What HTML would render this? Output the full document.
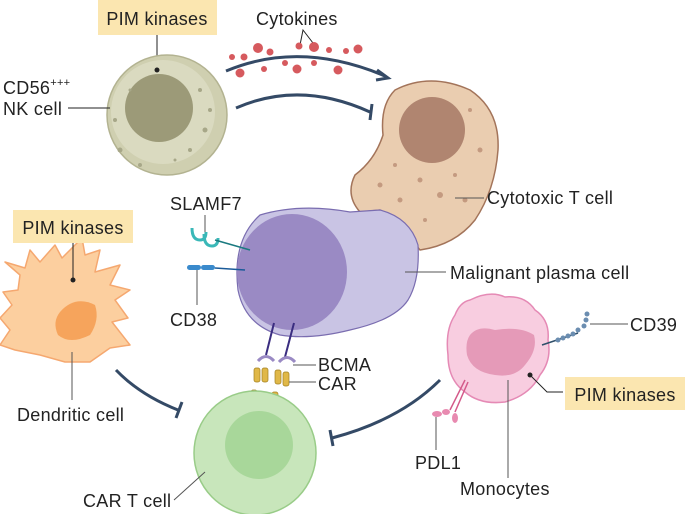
<!DOCTYPE html>
<html><head><style>
body{margin:0;background:#fff}
svg{display:block}
text{font-family:"Liberation Sans",sans-serif;font-size:18px;fill:#222;letter-spacing:0.3px}
</style></head><body>
<svg width="685" height="514" viewBox="0 0 685 514" xmlns="http://www.w3.org/2000/svg">
<rect x="98" y="0" width="119" height="35" fill="#fbe6b0"/>
<text x="157" y="25" text-anchor="middle">PIM kinases</text>
<line x1="157" y1="35" x2="157" y2="70" stroke="#222" stroke-width="1"/>
<ellipse cx="167" cy="115" rx="60" ry="60" fill="#cfcfb0" stroke="#b3b391" stroke-width="1.5"/>
<ellipse cx="163" cy="112" rx="52" ry="52" fill="#dadac0"/>
<circle cx="159" cy="108" r="34" fill="#9c9a78"/>
<circle cx="157" cy="70" r="2.5" fill="#222"/>
<g fill="#a7a788">
<circle cx="130" cy="90" r="1.5"/><circle cx="200" cy="90" r="2"/><circle cx="205" cy="130" r="2.5"/><circle cx="120" cy="150" r="2.5"/><circle cx="190" cy="150" r="2"/><circle cx="140" cy="165" r="2"/><circle cx="210" cy="110" r="2"/><circle cx="115" cy="120" r="2"/><circle cx="175" cy="160" r="1.5"/>
</g>
<text x="3" y="94">CD56<tspan font-size="11" dy="-8">+++</tspan></text>
<text x="3" y="115">NK cell</text>
<line x1="68" y1="108" x2="110" y2="108" stroke="#222"/>
<text x="256" y="25">Cytokines</text>
<polyline points="300,45 303,30 313,43" fill="none" stroke="#222"/>
<path d="M226,71 Q300,40 385,76" fill="none" stroke="#344a66" stroke-width="3"/>
<path d="M377,70 L388,78 L376,80" fill="none" stroke="#344a66" stroke-width="3"/>
<g fill="#d65a5e">
<circle cx="232" cy="57" r="3"/><circle cx="244" cy="57" r="3.5"/><circle cx="258" cy="48" r="5"/><circle cx="270" cy="52" r="3.5"/><circle cx="299" cy="46" r="3.5"/><circle cx="314" cy="47" r="5"/><circle cx="329" cy="50" r="3"/><circle cx="346" cy="51" r="3"/><circle cx="358" cy="49" r="4.5"/>
<circle cx="240" cy="73" r="4.5"/><circle cx="264" cy="69" r="3"/><circle cx="285" cy="63" r="3"/><circle cx="297" cy="69" r="4.5"/><circle cx="314" cy="63" r="3"/><circle cx="338" cy="70" r="4.5"/>
</g>
<path d="M236,108 Q300,80 370,112" fill="none" stroke="#344a66" stroke-width="3"/>
<line x1="372" y1="104" x2="370" y2="120" stroke="#344a66" stroke-width="3"/>
<path d="M395,90 Q430,72 470,90 Q500,110 498,150 Q495,190 475,220 Q455,245 420,250 L410,238 L400,222 L380,210 L360,212 Q345,195 355,175 Q375,160 383,135 Q380,105 395,90Z" fill="#eacdb0" stroke="#a3745a" stroke-width="1.5"/>
<circle cx="432" cy="130" r="33" fill="#b08570"/>
<g fill="#c49a80">
<circle cx="470" cy="110" r="2"/><circle cx="480" cy="150" r="2.5"/><circle cx="420" cy="180" r="2.5"/><circle cx="440" cy="195" r="3"/><circle cx="380" cy="185" r="2.5"/><circle cx="455" cy="175" r="2"/><circle cx="400" cy="200" r="2.5"/><circle cx="425" cy="220" r="2"/><circle cx="465" cy="200" r="2.5"/><circle cx="395" cy="165" r="2"/>
</g>
<text x="487" y="204">Cytotoxic T cell</text>
<line x1="455" y1="198" x2="484" y2="198" stroke="#555"/>
<path d="M260,215 Q300,203 350,212 L380,210 Q410,218 418,245 Q420,280 408,300 Q395,320 350,330 Q310,340 280,335 Q245,325 238,290 Q232,240 260,215Z" fill="#c9c4e4" stroke="#7a6db0" stroke-width="1.2"/>
<ellipse cx="292" cy="272" rx="55" ry="58" fill="#9a8ac4"/>
<text x="450" y="279">Malignant plasma cell</text>
<line x1="405" y1="272" x2="446" y2="272" stroke="#555"/>
<text x="170" y="210">SLAMF7</text>
<line x1="205" y1="215" x2="205" y2="237" stroke="#555"/>
<path d="M192,228 q0,12 8,12 q6,0 6,-8 M204,234 q0,12 8,12 q6,0 6,-8" fill="none" stroke="#3ab8b8" stroke-width="3"/>
<line x1="215" y1="240" x2="250" y2="250" stroke="#1b7a80" stroke-width="1.5"/>
<rect x="187" y="265" width="14" height="5" rx="2.5" fill="#3a8acc"/><rect x="201" y="265" width="14" height="5" rx="2.5" fill="#3a8acc"/>
<line x1="215" y1="268" x2="245" y2="270" stroke="#1a5a99" stroke-width="1.5"/>
<line x1="197" y1="270" x2="197" y2="305" stroke="#555"/>
<text x="170" y="326">CD38</text>
<line x1="274" y1="323" x2="266" y2="355" stroke="#3a2d80" stroke-width="2"/>
<line x1="294" y1="323" x2="285" y2="357" stroke="#3a2d80" stroke-width="2"/>
<path d="M258,361 q8,-9 16,0 M279,362 q8,-9 16,0" fill="none" stroke="#9a8ac4" stroke-width="3"/>
<g fill="#e0b848" stroke="#a07f20" stroke-width="0.7">
<rect x="254" y="368" width="6" height="14" rx="2"/><rect x="262" y="368" width="6" height="14" rx="2"/>
<rect x="275" y="370" width="6" height="14" rx="2"/><rect x="283" y="372" width="6" height="14" rx="2"/>
<rect x="251" y="390" width="6" height="10" rx="2"/><rect x="252" y="402" width="6" height="10" rx="2"/><rect x="252" y="414" width="6" height="10" rx="2"/>
<rect x="272" y="392" width="6" height="10" rx="2"/><rect x="270" y="404" width="6" height="10" rx="2"/><rect x="268" y="416" width="6" height="10" rx="2"/>
</g>
<line x1="293" y1="365" x2="316" y2="365" stroke="#555"/>
<line x1="289" y1="382" x2="316" y2="382" stroke="#555"/>
<text x="318" y="371">BCMA</text>
<text x="318" y="390">CAR</text>
<ellipse cx="255" cy="453" rx="61" ry="62" fill="#c8e6bb" stroke="#99cc88" stroke-width="1.5"/>
<circle cx="259" cy="445" r="34" fill="#a8d79a"/>
<text x="83" y="507">CAR T cell</text>
<line x1="174" y1="500" x2="205" y2="472" stroke="#555"/>
<path d="M20,275 L5,262 L25,268 L30,250 L40,262 L55,245 L62,258 L82,238 L85,255 L100,250 L95,272 L120,265 L110,285 L130,290 L115,300 L128,318 L112,322 L130,345 L110,348 L90,362 L65,362 L40,355 L15,350 L0,345 L10,330 L0,318 L12,305 L3,292 L18,290Z" fill="#fccf9f" stroke="#f5a870" stroke-width="1.5" stroke-linejoin="round"/>
<path d="M60,312 Q75,295 95,305 Q100,320 90,335 Q70,345 58,335 Q52,322 60,312Z" fill="#f6a45c"/>
<rect x="13" y="210" width="120" height="33" fill="#fbe6b0"/>
<text x="73" y="234" text-anchor="middle">PIM kinases</text>
<line x1="73" y1="243" x2="73" y2="280" stroke="#222"/>
<circle cx="73" cy="280" r="2.5" fill="#222"/>
<line x1="72" y1="352" x2="72" y2="400" stroke="#555"/>
<text x="17" y="421">Dendritic cell</text>
<path d="M116,370 Q140,395 178,410" fill="none" stroke="#344a66" stroke-width="3"/>
<line x1="182" y1="402" x2="176" y2="418" stroke="#344a66" stroke-width="3"/>
<path d="M470,300 Q490,290 505,297 Q525,295 535,310 Q550,320 548,340 Q552,360 540,375 Q530,395 505,402 Q480,405 465,392 Q448,380 448,355 Q445,330 455,315 Q460,302 470,300Z" fill="#f8cde0" stroke="#e58ab5" stroke-width="1.5"/>
<path d="M470,335 Q478,325 495,330 Q520,326 534,335 Q538,350 525,365 Q515,378 495,375 Q472,372 467,355 Q465,342 470,335Z" fill="#e59ab8"/>
<line x1="542" y1="345" x2="578" y2="333" stroke="#2f4f6a" stroke-width="1.5"/>
<g fill="#6b8db0"><circle cx="558" cy="340" r="2.5"/><circle cx="563" cy="338" r="2.5"/><circle cx="568" cy="336" r="2.5"/><circle cx="573" cy="334" r="2.5"/><circle cx="578" cy="330" r="2.5"/><circle cx="584" cy="326" r="2.5"/><circle cx="586" cy="320" r="2.5"/><circle cx="587" cy="314" r="2.5"/></g>
<line x1="590" y1="324" x2="628" y2="324" stroke="#555"/>
<text x="630" y="331">CD39</text>
<rect x="565" y="377" width="120" height="33" fill="#fbe6b0"/>
<text x="625" y="401" text-anchor="middle">PIM kinases</text>
<polyline points="530,375 547,392 563,392" fill="none" stroke="#222"/>
<circle cx="530" cy="375" r="2.5" fill="#222"/>
<line x1="508" y1="380" x2="508" y2="478" stroke="#555"/>
<text x="460" y="495">Monocytes</text>
<line x1="465" y1="380" x2="450" y2="410" stroke="#d45a8a" stroke-width="1.5"/>
<line x1="468" y1="382" x2="455" y2="412" stroke="#d45a8a" stroke-width="1.5"/>
<g fill="#e88ab0"><ellipse cx="437" cy="414" rx="5" ry="3"/><ellipse cx="446" cy="412" rx="4" ry="3"/><ellipse cx="455" cy="418" rx="3" ry="5"/></g>
<line x1="436" y1="417" x2="436" y2="450" stroke="#555"/>
<text x="415" y="469">PDL1</text>
<path d="M440,380 Q400,420 332,438" fill="none" stroke="#344a66" stroke-width="3"/>
<line x1="330" y1="430" x2="333" y2="446" stroke="#344a66" stroke-width="3"/>
</svg>
</body></html>
